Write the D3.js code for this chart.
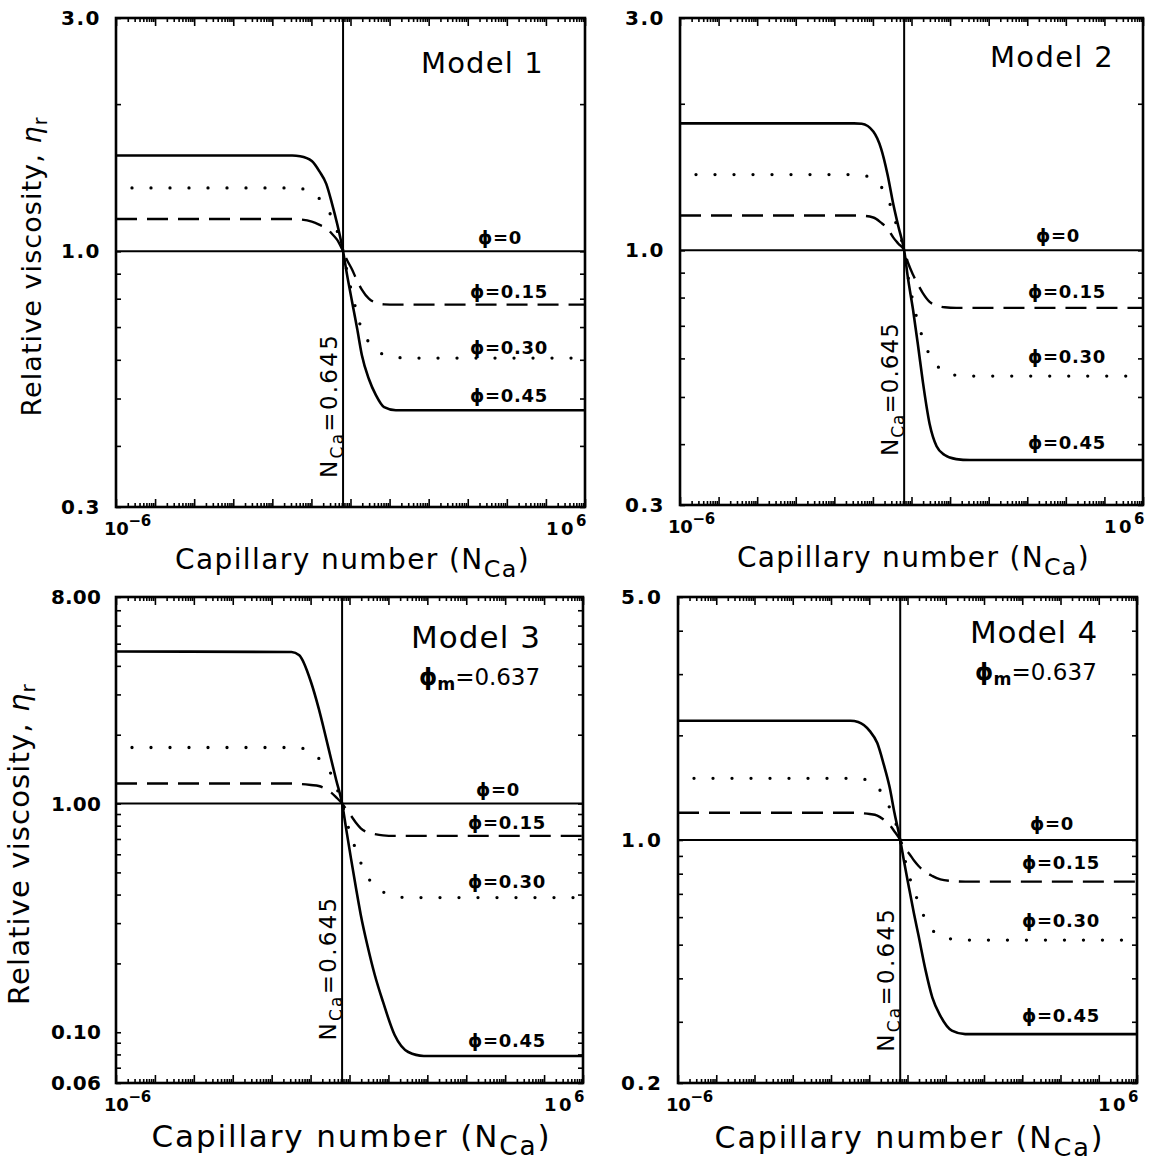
<!DOCTYPE html>
<html><head><meta charset="utf-8">
<script src="https://cdn.jsdelivr.net/npm/d3@7"></script>
<style>body{margin:0;background:#fff} svg{display:block}</style>
</head><body>
<svg id="c" width="1162" height="1164"></svg>
<script>
// ---------------- DATA ----------------
const Nc = 0.645;                       // critical capillary number (vertical line)
const logN = [-6, -1.49, -1.29, -0.99, -0.79, -0.62, -0.47, -0.34, -0.19, -0.09, 0.04, 0.17, 0.29, 0.47, 0.65, 0.86, 1.16, 1.51, 1.91, 6];
const phiValues = ["0", "0.15", "0.30", "0.45"];
const modelNames = ["Model 1", "Model 2", "Model 3", "Model 4"];
const phiM = [null, null, "0.637", "0.637"];

const m1_phi000 = logN.map(() => 1.0);
const m1_phi015 = [1.164, 1.164, 1.162, 1.15, 1.133, 1.115, 1.085, 1.055, 1.0, 0.96, 0.918, 0.87, 0.835, 0.80, 0.785, 0.779, 0.778, 0.778, 0.778, 0.778];
const m1_phi030 = [1.348, 1.348, 1.345, 1.316, 1.28, 1.234, 1.169, 1.10, 1.0, 0.91, 0.82, 0.745, 0.69, 0.652, 0.63, 0.614, 0.607, 0.605, 0.605, 0.605];
const m1_phi045 = [1.57, 1.57, 1.565, 1.53, 1.455, 1.374, 1.249, 1.137, 1.0, 0.897, 0.789, 0.695, 0.614, 0.548, 0.508, 0.480, 0.473, 0.473, 0.473, 0.473];

const m2_phi015 = [1.179, 1.179, 1.178, 1.168, 1.14, 1.108, 1.062, 1.032, 1.0, 0.943, 0.891, 0.85, 0.818, 0.784, 0.771, 0.764, 0.762, 0.762, 0.762, 0.762];
const m2_phi030 = [1.431, 1.431, 1.428, 1.398, 1.352, 1.283, 1.184, 1.093, 1.0, 0.885, 0.784, 0.71, 0.661, 0.61, 0.582, 0.56, 0.554, 0.552, 0.552, 0.552];
const m2_phi045 = [1.823, 1.823, 1.82, 1.754, 1.62, 1.43, 1.242, 1.119, 1.0, 0.875, 0.755, 0.637, 0.54, 0.44, 0.396, 0.380, 0.3726, 0.371, 0.371, 0.371];

const m3_phi015 = [1.223, 1.223, 1.219, 1.205, 1.193, 1.162, 1.117, 1.064, 1.0, 0.948, 0.884, 0.823, 0.779, 0.747, 0.735, 0.726, 0.722, 0.722, 0.722, 0.722];
const m3_phi030 = [1.758, 1.758, 1.752, 1.683, 1.576, 1.469, 1.342, 1.183, 1.0, 0.849, 0.73, 0.621, 0.551, 0.476, 0.436, 0.411, 0.393, 0.388, 0.388, 0.388];
const m3_phi045 = [4.62, 4.6, 4.45, 3.4, 2.6, 1.99, 1.557, 1.265, 1.0, 0.783, 0.573, 0.424, 0.326, 0.236, 0.178, 0.136, 0.0973, 0.082, 0.0788, 0.0788];

const m4_phi015 = [1.198, 1.198, 1.196, 1.188, 1.176, 1.144, 1.105, 1.058, 1.0, 0.948, 0.915, 0.873, 0.842, 0.809, 0.788, 0.77, 0.762, 0.759, 0.759, 0.759];
const m4_phi030 = [1.505, 1.505, 1.503, 1.478, 1.42, 1.339, 1.24, 1.149, 1.0, 0.899, 0.793, 0.711, 0.663, 0.589, 0.551, 0.528, 0.519, 0.5155, 0.5155, 0.5155];
const m4_phi045 = [2.204, 2.204, 2.185, 2.06, 1.90, 1.647, 1.422, 1.196, 1.0, 0.867, 0.728, 0.614, 0.53, 0.423, 0.352, 0.312, 0.283, 0.2765, 0.2765, 0.2765];

const seriesByModel = [
  [m1_phi000, m1_phi015, m1_phi030, m1_phi045],
  [m1_phi000, m2_phi015, m2_phi030, m2_phi045],
  [m1_phi000, m3_phi015, m3_phi030, m3_phi045],
  [m1_phi000, m4_phi015, m4_phi030, m4_phi045]
];

const xDomain = [1e-6, 1e6];
const xTickExp = ["\u22126", "6"];
const yDomains = [[0.3, 3], [0.3, 3], [0.06, 8], [0.2, 5]];
const yTickValues = [[0.3, 1, 3], [0.3, 1, 3], [0.06, 0.1, 1, 8], [0.2, 1, 5]];
const yTickLabels = [["0.3", "1.0", "3.0"], ["0.3", "1.0", "3.0"], ["0.06", "0.10", "1.00", "8.00"], ["0.2", "1.0", "5.0"]];
const ncLabelAt = [0.344, 0.378, 0.092, 0.246];   // eta where rotated N_Ca label starts

// ---------------- LAYOUT / STYLE ----------------
const panels = [
  {x0:116, x1:585, y0:18, y1:507, model:{x:421,w:123,y:73,fs:29}, phim:null,
   xt:{y:569,w:355,fs:28}, yt:{x:41,w:300,fs:27}, lab:[7,7,4,8], tickW:40},
  {x0:680, x1:1143, y0:18, y1:505, model:{x:990,w:124,y:67,fs:29}, phim:null,
   xt:{y:567,w:353,fs:28}, yt:null, lab:[8,10,13,11], tickW:40},
  {x0:116, x1:583, y0:597, y1:1083, model:{x:411,w:130,y:648,fs:31}, phim:{x:419,w:121,y:685,fs:23},
   xt:{y:1147,w:400,fs:31}, yt:{x:29,w:322,fs:29}, lab:[8,7,10,9], tickW:48},
  {x0:678, x1:1137, y0:597, y1:1083, model:{x:970,w:128,y:643,fs:31}, phim:{x:975,w:122,y:680,fs:23},
   xt:{y:1148,w:390,fs:30}, yt:null, lab:[10,13,13,12], tickW:42}
];
const FONT = "'DejaVu Sans', Verdana, sans-serif";
const lineStyles = [
  {w:2, dash:null, cap:"butt"},
  {w:2.4, dash:"21,10", cap:"butt"},
  {w:3.3, dash:"0,19", cap:"round"},
  {w:2.6, dash:null, cap:"butt"}
];

const svg = d3.select("#c");

function rich(g, parts, attrs) {
  const t = g.append("text");
  Object.entries(attrs).forEach(([k, v]) => t.attr(k, v));
  let prev = 0;
  parts.forEach(p => {
    const sh = p.shift || 0;
    const ts = t.append("tspan").text(p.t).attr("dy", sh - prev);
    if (p.fs) ts.attr("font-size", p.fs);
    if (p.style) ts.attr("font-style", p.style);
    if (p.weight) ts.attr("font-weight", p.weight);
    prev = sh;
  });
  return t;
}
function fit(t, w) {
  const n = t.text().length;
  const cur = t.node().getComputedTextLength();
  t.style("letter-spacing", ((w - cur) / n) + "px");
}

panels.forEach((P, i) => {
  const g = svg.append("g");
  const x = d3.scaleLog().domain(xDomain).range([P.x0, P.x1]);
  const y = d3.scaleLog().domain(yDomains[i]).range([P.y1, P.y0]);

  // minor & major ticks (x)
  const xMinor = [], xMajor = [];
  for (let e = -6; e < 6; e++) for (let k = 1; k <= 9; k++) { const v = k * Math.pow(10, e); (k === 1 ? xMajor : xMinor).push(v); }
  xMajor.push(1e6);
  const tickStroke = (sel) => sel.selectAll("line").attr("stroke", "#000").attr("stroke-width", 1.6);
  [[d3.axisBottom, P.y1], [d3.axisTop, P.y0]].forEach(([ax, yy]) => {
    g.append("g").attr("transform", `translate(0,${yy})`)
      .call(ax(x).tickValues(xMinor).tickSize(-4).tickFormat(""))
      .call(s => s.select(".domain").remove()).call(tickStroke);
    g.append("g").attr("transform", `translate(0,${yy})`)
      .call(ax(x).tickValues(xMajor).tickSize(-8).tickFormat(""))
      .call(s => s.select(".domain").remove()).call(tickStroke);
  });
  // y ticks
  const [lo, hi] = yDomains[i];
  const yMinor = [];
  for (let e = -2; e <= 1; e++) for (let k = 1; k <= 9; k++) {
    const v = +(k * Math.pow(10, e)).toPrecision(6);
    if (v >= lo * 0.999 && v <= hi * 1.001) yMinor.push(v);
  }
  [[d3.axisLeft, P.x0], [d3.axisRight, P.x1]].forEach(([ax, xx]) => {
    g.append("g").attr("transform", `translate(${xx},0)`)
      .call(ax(y).tickValues(yMinor).tickSize(-5).tickFormat(""))
      .call(s => s.select(".domain").remove()).call(tickStroke);
  });

  // reference line at Nc
  g.append("line").attr("x1", x(Nc)).attr("x2", x(Nc)).attr("y1", P.y0).attr("y2", P.y1)
    .attr("stroke", "#000").attr("stroke-width", 2);

  // curves
  const line = d3.line().x((d, j) => x(Math.pow(10, logN[j]))).y(d => y(d)).curve(d3.curveMonotoneX);
  seriesByModel[i].forEach((s, k) => {
    const st = lineStyles[k];
    const p = g.append("path").attr("d", line(s)).attr("fill", "none").attr("stroke", "#000")
      .attr("stroke-width", st.w).attr("stroke-linecap", st.cap);
    if (st.dash) p.attr("stroke-dasharray", st.dash);
    if (k === 2) p.attr("stroke-dashoffset", -16);
  });

  // frame
  g.append("rect").attr("x", P.x0).attr("y", P.y0).attr("width", P.x1 - P.x0).attr("height", P.y1 - P.y0)
    .attr("fill", "none").attr("stroke", "#000").attr("stroke-width", 2.6);

  // phi labels
  seriesByModel[i].forEach((s, k) => {
    const yy = y(s[s.length - 1]) - P.lab[k];
    const xx = k === 0 ? P.x1 - 107 : P.x1 - 115;
    const t = g.append("text").attr("x", xx).attr("y", yy).attr("font-family", FONT)
      .attr("font-weight", "bold").attr("font-size", 18).text("\u03D5=" + phiValues[k]);
    fit(t, k === 0 ? 44 : 78);
  });

  // y tick labels
  yTickValues[i].forEach((v, k) => {
    const t = g.append("text").attr("x", P.x0 - 15).attr("y", y(v) + 7).attr("text-anchor", "end")
      .attr("font-family", FONT).attr("font-weight", "bold").attr("font-size", 20).text(yTickLabels[i][k]);
    fit(t, yTickLabels[i][k].length === 4 ? 50 : P.tickW);
  });
  // x tick labels
  const xl = rich(g, [{t:"10"}, {t:xTickExp[0], shift:-9, fs:15}], {x: P.x0 - 12, y: P.y1 + 28, "font-family": FONT, "font-weight": "bold", "font-size": 18});
  const xr = rich(g, [{t:"10"}, {t:xTickExp[1], shift:-9, fs:15}], {x: P.x1 + 4, y: P.y1 + 28, "text-anchor": "end", "font-family": FONT, "font-weight": "bold", "font-size": 18});
  fit(xl, 47); fit(xr, 43);

  // x title
  const cx = (P.x0 + P.x1) / 2 + 2;
  const xt = rich(g, [{t:"Capillary number (N"}, {t:"Ca", shift: P.xt.fs * 0.27, fs: P.xt.fs * 0.85}, {t:")", shift:0}],
    {x: cx, y: P.xt.y, "text-anchor": "middle", "font-family": FONT, "font-size": P.xt.fs});
  fit(xt, P.xt.w);

  // y title
  if (P.yt) {
    const cy = (P.y0 + P.y1) / 2 + 4;
    const yt = rich(g, [{t:"Relative viscosity, "}, {t:"\u03B7", style:"italic"}, {t:"r", shift: 6, fs: P.yt.fs * 0.7}],
      {transform: `translate(${P.yt.x},${cy}) rotate(-90)`, "text-anchor": "middle", "font-family": FONT, "font-size": P.yt.fs});
    fit(yt, P.yt.w);
  }

  // Model labels
  const mt = g.append("text").attr("x", P.model.x).attr("y", P.model.y).attr("font-family", FONT)
    .attr("font-size", P.model.fs).text(modelNames[i]);
  fit(mt, P.model.w);
  if (P.phim) {
    const pm = rich(g, [{t:"\u03D5", weight:"bold"}, {t:"m", shift: 5, fs: P.phim.fs * 0.75, weight:"bold"}, {t:"=" + phiM[i], shift: 0}],
      {x: P.phim.x, y: P.phim.y, "font-family": FONT, "font-size": P.phim.fs});
    fit(pm, P.phim.w);
  }

  // N_Ca = 0.645 rotated label
  const lx = x(Nc) - 6, ly = y(ncLabelAt[i]);
  const nt = rich(g, [{t:"N"}, {t:"Ca", shift: 6, fs: 17}, {t:"=0.645", shift: 0}],
    {transform: `translate(${lx},${ly}) rotate(-90)`, "font-family": FONT, "font-size": 23});
  fit(nt, i === 1 ? 134 : 145);
});
</script>
</body></html>
